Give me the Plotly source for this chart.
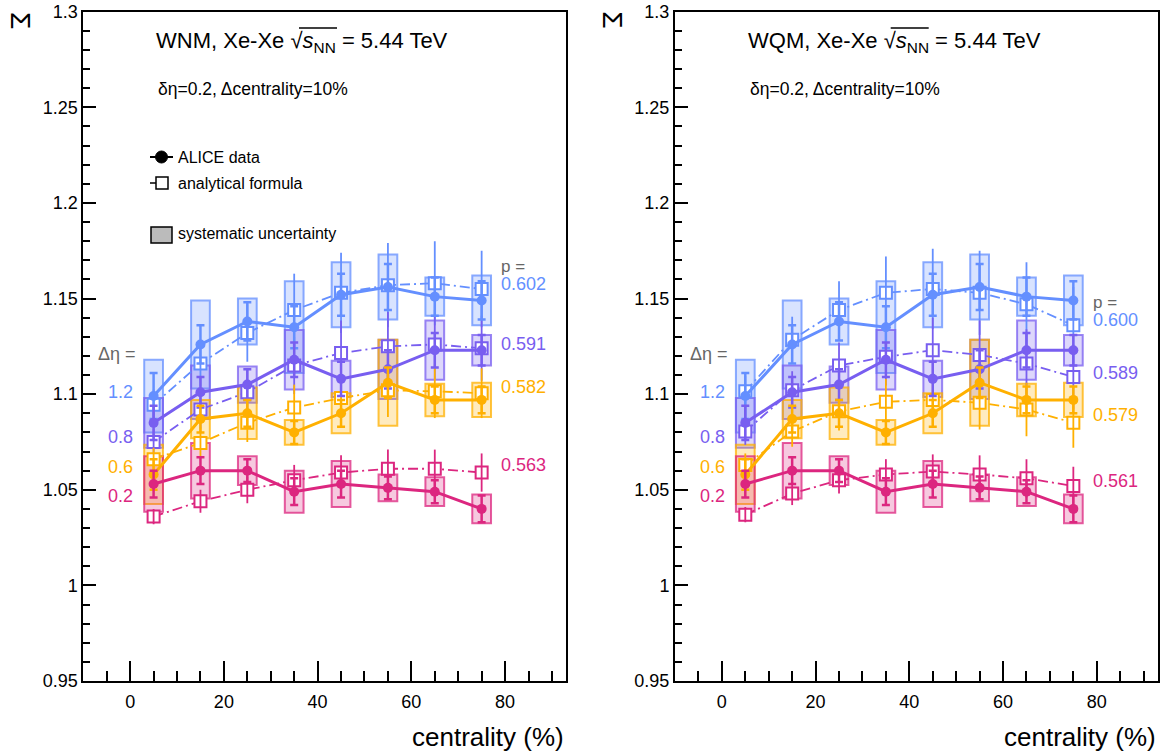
import plotly.graph_objects as go
from plotly.subplots import make_subplots

W, H = 1167, 753
FONT = "Liberation Sans, Arial, Helvetica, sans-serif"

# ---------------- data ----------------
centrality = [5, 15, 25, 35, 45, 55, 65, 75]
deta_labels = ["1.2", "0.8", "0.6", "0.2"]
colors = ["#648FFF", "#785EF0", "#FFB000", "#DC267F"]
rgb = [(100, 143, 255), (120, 94, 240), (255, 176, 0), (220, 38, 127)]

# ALICE data (same in both panels)
alice_12 = [1.099, 1.126, 1.138, 1.135, 1.152, 1.156, 1.151, 1.149]
alice_08 = [1.085, 1.101, 1.105, 1.118, 1.108, 1.113, 1.123, 1.123]
alice_06 = [1.058, 1.087, 1.090, 1.080, 1.090, 1.106, 1.097, 1.097]
alice_02 = [1.053, 1.060, 1.060, 1.049, 1.053, 1.051, 1.049, 1.040]

stat_12 = [0.012, 0.010, 0.010, 0.011, 0.011, 0.012, 0.010, 0.010]
stat_08 = [0.009, 0.008, 0.008, 0.009, 0.009, 0.010, 0.009, 0.008]
stat_06 = [0.008, 0.007, 0.007, 0.006, 0.007, 0.008, 0.007, 0.007]
stat_02 = [0.007, 0.007, 0.006, 0.007, 0.007, 0.006, 0.006, 0.007]

sys_12 = [0.019, 0.023, 0.012, 0.024, 0.017, 0.017, 0.010, 0.013]
sys_08 = [0.013, 0.014, 0.0095, 0.0155, 0.0095, 0.0155, 0.0155, 0.008]
sys_06 = [0.0155, 0.010, 0.0135, 0.0065, 0.0105, 0.0225, 0.0085, 0.009]
sys_02 = [0.0145, 0.0145, 0.0075, 0.011, 0.012, 0.007, 0.0075, 0.0075]

# analytical formula, WNM
wnm_12 = [1.0945, 1.116, 1.132, 1.144, 1.153, 1.157, 1.158, 1.155]
wnm_08 = [1.075, 1.092, 1.101, 1.115, 1.1215, 1.125, 1.126, 1.124]
wnm_06 = [1.066, 1.0745, 1.085, 1.093, 1.098, 1.102, 1.1015, 1.1005]
wnm_02 = [1.036, 1.044, 1.050, 1.055, 1.059, 1.061, 1.061, 1.059]

# analytical formula, WQM
wqm_12 = [1.1015, 1.1285, 1.144, 1.153, 1.155, 1.153, 1.147, 1.136]
wqm_08 = [1.0805, 1.102, 1.115, 1.1195, 1.123, 1.1205, 1.116, 1.109]
wqm_06 = [1.063, 1.0805, 1.091, 1.096, 1.097, 1.0955, 1.092, 1.085]
wqm_02 = [1.037, 1.048, 1.055, 1.058, 1.0595, 1.058, 1.056, 1.052]

ana_err_12 = [0.008, 0.012, 0.015, 0.019, 0.021, 0.022, 0.022, 0.020]
ana_err_08 = [0.007, 0.010, 0.012, 0.015, 0.017, 0.018, 0.018, 0.017]
ana_err_06 = [0.006, 0.008, 0.010, 0.012, 0.013, 0.014, 0.014, 0.013]
ana_err_02 = [0.004, 0.006, 0.007, 0.008, 0.009, 0.010, 0.010, 0.010]

p_wnm = ["0.602", "0.591", "0.582", "0.563"]
p_wqm = ["0.600", "0.589", "0.579", "0.561"]

alice = [alice_12, alice_08, alice_06, alice_02]
stat = [stat_12, stat_08, stat_06, stat_02]
syst = [sys_12, sys_08, sys_06, sys_02]
ana_err = [ana_err_12, ana_err_08, ana_err_06, ana_err_02]
models = [("WNM", [wnm_12, wnm_08, wnm_06, wnm_02], p_wnm),
          ("WQM", [wqm_12, wqm_08, wqm_06, wqm_02], p_wqm)]

# ---------------- figure ----------------
fig = make_subplots(rows=1, cols=2)


def rgba(c, a):
    return f"rgba({c[0]},{c[1]},{c[2]},{a})"


for col, (name, ana, pvals) in enumerate(models, start=1):
    # analytical formula lines + squares
    for i in range(4):
        fig.add_trace(go.Scatter(
            x=centrality, y=ana[i], mode="lines+markers",
            line=dict(color=colors[i], width=1.8, dash="10px,4px,2px,4px"),
            marker=dict(symbol="square", size=12, color="white",
                        line=dict(color=colors[i], width=2)),
            showlegend=False, hoverinfo="skip"), row=1, col=col)
        fig.add_trace(go.Scatter(
            x=centrality, y=ana[i], mode="markers",
            marker=dict(size=1, color=colors[i], opacity=0),
            error_y=dict(type="data", array=ana_err[i], color=colors[i],
                         thickness=1.8, width=0),
            showlegend=False, hoverinfo="skip"), row=1, col=col)
    # systematic boxes
    for i in range(4):
        fig.add_trace(go.Bar(
            x=centrality, y=[2 * s for s in syst[i]],
            base=[v - s for v, s in zip(alice[i], syst[i])], width=4,
            marker=dict(color=rgba(rgb[i], 0.25),
                        line=dict(color=rgba(rgb[i], 0.75), width=2)),
            showlegend=False, hoverinfo="skip"), row=1, col=col)
    # data
    for i in range(4):
        fig.add_trace(go.Scatter(
            x=centrality, y=alice[i], mode="lines+markers",
            line=dict(color=colors[i], width=3),
            marker=dict(symbol="circle", size=10, color=colors[i]),
            error_y=dict(type="data", array=stat[i], color=colors[i],
                         thickness=2.5, width=4),
            showlegend=False, hoverinfo="skip"), row=1, col=col)

# axis geometry (pixels)
panels = [(83.3, 566.0), (675.0, 1157.7)]
ytop, ybot = 11.7, 681.0
for k, (xl, xr) in enumerate(panels, start=1):
    xa = dict(domain=[xl / W, xr / W], range=[-10, 93], tick0=0, dtick=20,
              ticks="inside", ticklen=20, tickwidth=1.5, tickcolor="black",
              minor=dict(ticks="inside", ticklen=10, dtick=5, tick0=0,
                         tickwidth=1.5, tickcolor="black"),
              showline=True, linecolor="black", linewidth=2, mirror=True,
              showgrid=False, zeroline=False, automargin=False,
              tickfont=dict(family=FONT, size=18, color="black"),
              ticklabelstandoff=3)
    ya = dict(domain=[1 - ybot / H, 1 - ytop / H], range=[0.95, 1.3],
              tick0=0.95, dtick=0.05, tickformat="~g",
              ticks="inside", ticklen=13, tickwidth=1.5, tickcolor="black",
              minor=dict(ticks="inside", ticklen=7, dtick=0.01, tick0=0.95,
                         tickwidth=1.5, tickcolor="black"),
              showline=True, linecolor="black", linewidth=2, mirror=True,
              showgrid=False, zeroline=False, automargin=False,
              tickfont=dict(family=FONT, size=18, color="black"),
              ticklabelstandoff=0)
    fig.update_layout(**{("xaxis" if k == 1 else "xaxis2"): xa,
                         ("yaxis" if k == 1 else "yaxis2"): ya})


def ann(text, px, py, size, color="black", xanchor="left", textangle=0):
    return dict(text=text, x=px / W, y=1 - py / H, xref="paper", yref="paper",
                showarrow=False, xanchor=xanchor, yanchor="middle",
                textangle=textangle,
                font=dict(family=FONT, size=size, color=color))


annotations = []
shapes = []
gray = "#666666"
for k, (name, ana, pvals) in enumerate(models):
    dx = panels[k][0] - panels[0][0]
    annotations.append(ann(f"{name}, Xe-Xe √<i>s</i><sub>NN</sub> = 5.44 TeV",
                           154 + dx, 42, 22))
    shapes.append(dict(type="line", xref="paper", yref="paper",
                       x0=(299 + dx) / W, x1=(337 + dx) / W,
                       y0=1 - 28 / H, y1=1 - 28 / H,
                       line=dict(color="black", width=1.3)))
    annotations.append(ann("δη=0.2, Δcentrality=10%", 156 + dx, 89, 17.5))
    annotations.append(ann("Σ", 20 + dx, 20, 28, xanchor="center", textangle=90))
    annotations.append(ann("centrality (%)", panels[k][1], 737, 26, xanchor="right"))
    # Delta eta labels
    annotations.append(ann("Δη =", 96 + dx, 354, 18, gray))
    for i, (lab, yy) in enumerate(zip(deta_labels, [392, 437, 467, 496])):
        annotations.append(ann(lab, 106 + dx, yy, 18, colors[i]))
    # p labels
    if k == 0:
        px, py_p, pys = 499, 266, [284, 344, 387, 465]
    else:
        px, py_p, pys = 1091, 302, [320, 373, 415, 481]
    annotations.append(ann("p =", px, py_p, 17, gray))
    for i, yy in enumerate(pys):
        annotations.append(ann(pvals[i], px, yy, 18, colors[i]))

# legend (left panel only)
annotations.append(ann("ALICE data", 176, 157, 16))
annotations.append(ann("analytical formula", 176, 183, 16))
annotations.append(ann("systematic uncertainty", 176, 234, 16))


def pxrect(x0, y0, x1, y1, **kw):
    d = dict(xref="paper", yref="paper", x0=x0 / W, x1=x1 / W,
             y0=1 - y1 / H, y1=1 - y0 / H)
    d.update(kw)
    return d


shapes.append(pxrect(150, 157, 173, 157, type="line",
                     line=dict(color="black", width=2)))
shapes.append(pxrect(155.5, 151, 167.5, 163, type="circle",
                     fillcolor="black", line=dict(color="black", width=1)))
shapes.append(pxrect(150, 183, 156, 183, type="line",
                     line=dict(color="black", width=1.5)))
shapes.append(pxrect(156, 177, 168, 189, type="rect", fillcolor="white",
                     line=dict(color="black", width=1.5)))
shapes.append(pxrect(151, 227, 172, 243, type="rect", fillcolor="#bbbbbb",
                     line=dict(color="black", width=1.5)))

fig.update_layout(width=W, height=H, margin=dict(l=0, r=0, t=0, b=0, pad=0),
                  paper_bgcolor="white", plot_bgcolor="white",
                  barmode="overlay", showlegend=False,
                  annotations=annotations, shapes=shapes,
                  font=dict(family=FONT, color="black"))

fig.write_html("out.html", config={"displayModeBar": False},
               post_script="document.body.style.margin='0';"
                           "document.body.style.overflow='hidden';")
